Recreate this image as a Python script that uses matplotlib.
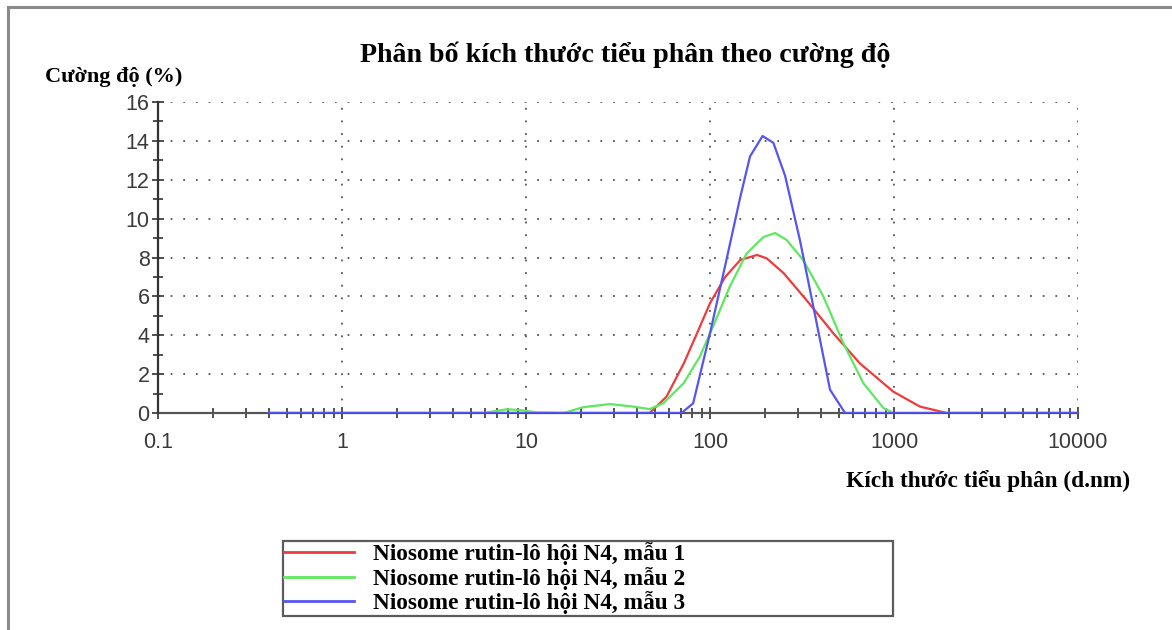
import numpy as np
import matplotlib
matplotlib.use('Agg')
import matplotlib.pyplot as plt
from matplotlib.patches import Rectangle
from matplotlib.ticker import LogLocator, MultipleLocator, FixedLocator, FixedFormatter

# Data (particle size in d.nm, intensity in %)
size_1 = [0.4, 47, 58, 72, 85, 100, 121, 146, 180, 203, 251, 335, 468, 653, 991, 1384, 1933, 10000]
int_1 = [0, 0, 0.84, 2.55, 4.1, 5.65, 7.0, 7.87, 8.13, 7.96, 7.2, 5.8, 4.1, 2.55, 1.1, 0.33, 0, 0]

size_2 = [0.4, 5.9, 7.85, 9.3, 11.4, 16, 20.5, 28.6, 38, 47, 55.7, 72, 88, 104, 128, 158, 195, 226, 261,
          321, 413, 530, 681, 875, 991, 10000]
int_2 = [0, 0, 0.19, 0.15, 0.03, 0, 0.3, 0.46, 0.33, 0.2, 0.5, 1.54, 2.9, 4.46, 6.5, 8.2, 9.05, 9.26, 8.9,
         7.87, 6.0, 3.6, 1.54, 0.26, 0, 0]

size_3 = [0.4, 70, 81, 100, 123, 146, 165, 193, 221, 256, 308, 364, 449, 542, 10000]
int_3 = [0, 0, 0.5, 4.1, 7.9, 11.1, 13.2, 14.25, 13.9, 12.2, 8.9, 5.5, 1.2, 0, 0]

labels = ['Niosome rutin-lô hội N4, mẫu 1',
          'Niosome rutin-lô hội N4, mẫu 2',
          'Niosome rutin-lô hội N4, mẫu 3']
colors = ['#ee3b3b', '#5ee85e', '#5555f0']

x_ticks = [0.1, 1, 10, 100, 1000, 10000]
x_tick_labels = ['0.1', '1', '10', '100', '1000', '10000']
y_ticks = [0, 2, 4, 6, 8, 10, 12, 14, 16]

W, H = 1172, 630
fig = plt.figure(figsize=(W / 100, H / 100), dpi=100)
fig.patch.set_facecolor('white')

# outer frame (only top and left edges visible in the reference)
fig.patches.append(Rectangle((8 / W, -0.1), 2, 1.1 - 7 / H, transform=fig.transFigure,
                             fill=False, edgecolor='#8a8a8a', linewidth=2.2, zorder=0))

ax = fig.add_axes([158 / W, 1 - 413 / H, 920 / W, 311 / H])

ax.plot(size_1, int_1, color=colors[0], linewidth=1.6, label=labels[0], zorder=3)
ax.plot(size_2, int_2, color=colors[1], linewidth=1.6, label=labels[1], zorder=3)
ax.plot(size_3, int_3, color=colors[2], linewidth=1.6, label=labels[2], zorder=4)

ax.set_xscale('log')
ax.set_xlim(0.1, 10000)
ax.set_ylim(0, 16)

ax.xaxis.set_major_locator(FixedLocator(x_ticks))
ax.xaxis.set_major_formatter(FixedFormatter(x_tick_labels))
ax.xaxis.set_minor_locator(LogLocator(base=10, subs=np.arange(2, 10), numticks=20))
ax.yaxis.set_major_locator(FixedLocator(y_ticks))
ax.yaxis.set_minor_locator(MultipleLocator(1))

ax.grid(True, which='major', linestyle=(0, (1, 6)), color='#555555', linewidth=1.3)

for side in ['top', 'right']:
    ax.spines[side].set_visible(False)
ax.spines['left'].set_color('#333333')
ax.spines['left'].set_linewidth(1.6)
ax.spines['bottom'].set_color('#555555')
ax.spines['bottom'].set_linewidth(1.6)
ax.spines['bottom'].set_zorder(2)

ax.tick_params(axis='both', which='both', direction='inout', color='#333333', width=1.2)
ax.tick_params(axis='both', which='major', length=8)
ax.tick_params(axis='both', which='minor', length=7)
ax.tick_params(axis='x', which='major', pad=10)
ax.tick_params(axis='y', which='major', pad=2)
for lab in ax.get_xticklabels() + ax.get_yticklabels():
    lab.set_fontfamily('Liberation Sans')
    lab.set_fontsize(15.5)
    lab.set_color('#3a3a3a')

serif = 'Liberation Serif'
fig.text(625 / W, 1 - 55 / H, 'Phân bố kích thước tiểu phân theo cường độ', ha='center', va='center',
         fontfamily=serif, fontweight='bold', fontsize=20.2)
fig.text(45 / W, 1 - 77 / H, 'Cường độ (%)', ha='left', va='center',
         fontfamily=serif, fontweight='bold', fontsize=16)
fig.text(1130 / W, 1 - 481 / H, 'Kích thước tiểu phân (d.nm)', ha='right', va='center',
         fontfamily=serif, fontweight='bold', fontsize=16.8)

leg = fig.legend(loc='upper left', bbox_to_anchor=(283 / W, 1 - 615 / H, 610 / W, 74 / H),
                 mode='expand', borderaxespad=0, frameon=True, fancybox=False,
                 prop={'family': serif, 'weight': 'bold', 'size': 16.8},
                 handlelength=3.0, handletextpad=0.8, labelspacing=0.07, borderpad=0.05)
leg.get_frame().set_edgecolor('#333333')
leg.get_frame().set_linewidth(1.6)
for line in leg.get_lines():
    line.set_linewidth(2)

fig.savefig('out.png', dpi=100)
